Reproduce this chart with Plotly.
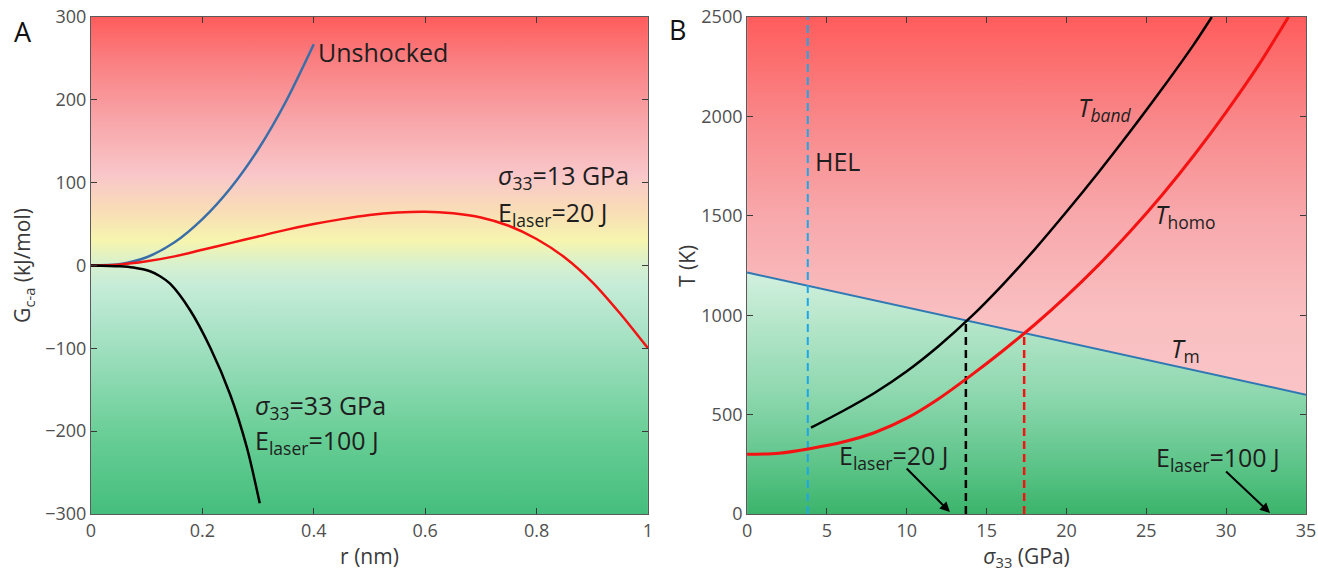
import plotly.graph_objects as go

# ---------------- Panel A data ----------------
r_unshocked = [0, 0.05, 0.10, 0.15, 0.20, 0.25, 0.30, 0.35, 0.40]
g_unshocked = [0, 1.5, 10, 28, 56, 93, 140, 198, 267]

r_13gpa = [0, 0.05, 0.10, 0.15, 0.20, 0.25, 0.30, 0.35, 0.40, 0.45, 0.50, 0.55, 0.60,
           0.65, 0.70, 0.75, 0.80, 0.85, 0.90, 0.95, 1.00]
g_13gpa = [0, 1, 5, 11, 19, 27, 35, 43, 50, 56, 61, 64, 65, 63, 58, 48, 32, 10, -20, -58, -100]

r_33gpa = [0, 0.052, 0.076, 0.106, 0.124, 0.142, 0.178, 0.214, 0.25, 0.28, 0.303]
g_33gpa = [0, -1, -2.5, -7, -13, -22, -54, -99, -156, -220, -287]

# ---------------- Panel B data ----------------
sigma_band = [4, 6, 8, 10, 12, 14, 16, 18, 20, 22, 24, 26, 28, 29.1]
t_band = [434, 518, 610, 718, 845, 990, 1153, 1330, 1520, 1718, 1925, 2140, 2365, 2500]

sigma_homo = [0, 2, 4, 6, 8, 10, 12, 14, 16, 18, 20, 22, 24, 26, 28, 30, 32, 33.9]
t_homo = [300, 306, 330, 362, 410, 482, 580, 696, 820, 952, 1096, 1252, 1422, 1606, 1806, 2022, 2254, 2500]

sigma_melt = [0, 35]
t_melt = [1215, 600]

sigma_hel = 3.8
sigma_band_cross, t_band_cross = 13.7, 975
sigma_homo_cross, t_homo_cross = 17.35, 910

xA_range = [0, 1]
yA_range = [-300, 300]
xB_range = [0, 35]
yB_range = [0, 2500]

FONT = "Open Sans"
TXT = "#1e1e1e"
TICK = "#505050"
W, H = 1318, 572
ML, MR, MT, MB = 91, 12, 17, 58
PW, PH = W - ML - MR, H - MT - MB

fig = go.Figure()

# ---- Panel A background gradient ----
gradA = [
    [0.00, "#45BE7D"], [0.15, "#66CD94"], [0.35, "#A4E1C3"], [0.46, "#C6ECD8"],
    [0.50, "#D6F0CF"], [0.55, "#F6F5AE"], [0.61, "#F9DDB6"], [0.68, "#F9C7C9"],
    [0.80, "#F8A3A7"], [0.92, "#FA7C7E"], [1.00, "#FF5C5C"],
]
fig.add_trace(go.Scatter(
    x=[xA_range[0], xA_range[1], xA_range[1], xA_range[0], xA_range[0]],
    y=[yA_range[0], yA_range[0], yA_range[1], yA_range[1], yA_range[0]],
    fill="toself", mode="lines", line=dict(width=0),
    fillgradient=dict(type="vertical", colorscale=gradA, start=yA_range[0], stop=yA_range[1]),
    hoverinfo="skip", showlegend=False, xaxis="x", yaxis="y"))

# ---- Panel B background: red everywhere, green below melt line ----
gradBred = [[0.0, "#FBCBCD"], [0.4, "#F9BFC1"], [0.6, "#F8A8AB"], [0.8, "#F98688"], [1.0, "#FF5C5C"]]
fig.add_trace(go.Scatter(
    x=[xB_range[0], xB_range[1], xB_range[1], xB_range[0], xB_range[0]],
    y=[yB_range[0], yB_range[0], yB_range[1], yB_range[1], yB_range[0]],
    fill="toself", mode="lines", line=dict(width=0),
    fillgradient=dict(type="vertical", colorscale=gradBred, start=yB_range[0], stop=yB_range[1]),
    hoverinfo="skip", showlegend=False, xaxis="x2", yaxis="y2"))
gradBgreen = [[0.0, "#3BB46B"], [0.2, "#5CC488"], [0.5, "#8ED8AF"], [1.0, "#D2F0DE"]]
fig.add_trace(go.Scatter(
    x=sigma_melt, y=t_melt, fill="tozeroy", mode="lines", line=dict(width=0),
    fillgradient=dict(type="vertical", colorscale=gradBgreen, start=0, stop=max(t_melt)),
    hoverinfo="skip", showlegend=False, xaxis="x2", yaxis="y2"))

# ---- Panel A curves ----
fig.add_trace(go.Scatter(x=r_unshocked, y=g_unshocked, mode="lines", line=dict(color="#3A6EA8", width=2.5, shape="spline", smoothing=0.8),
                         showlegend=False, xaxis="x", yaxis="y"))
fig.add_trace(go.Scatter(x=r_13gpa, y=g_13gpa, mode="lines", line=dict(color="#F41212", width=2.5, shape="spline", smoothing=0.8),
                         showlegend=False, xaxis="x", yaxis="y"))
fig.add_trace(go.Scatter(x=r_33gpa, y=g_33gpa, mode="lines", line=dict(color="#000000", width=2.5, shape="spline", smoothing=0.8),
                         showlegend=False, xaxis="x", yaxis="y"))

# ---- Panel B lines ----
fig.add_trace(go.Scatter(x=sigma_melt, y=t_melt, mode="lines", line=dict(color="#2F78B3", width=2),
                         showlegend=False, xaxis="x2", yaxis="y2"))
fig.add_trace(go.Scatter(x=[sigma_hel, sigma_hel], y=yB_range, mode="lines",
                         line=dict(color="#1EA6E6", width=2, dash="8px,5px"),
                         showlegend=False, xaxis="x2", yaxis="y2"))
fig.add_trace(go.Scatter(x=[sigma_band_cross, sigma_band_cross], y=[0, t_band_cross], mode="lines",
                         line=dict(color="#000000", width=2.5, dash="8px,5px"),
                         showlegend=False, xaxis="x2", yaxis="y2"))
fig.add_trace(go.Scatter(x=[sigma_homo_cross, sigma_homo_cross], y=[0, t_homo_cross], mode="lines",
                         line=dict(color="#F41212", width=2.5, dash="8px,5px"),
                         showlegend=False, xaxis="x2", yaxis="y2"))
fig.add_trace(go.Scatter(x=sigma_band, y=t_band, mode="lines", line=dict(color="#000000", width=2.5, shape="spline", smoothing=0.8),
                         showlegend=False, xaxis="x2", yaxis="y2"))
fig.add_trace(go.Scatter(x=sigma_homo, y=t_homo, mode="lines", line=dict(color="#F41212", width=3, shape="spline", smoothing=0.8),
                         showlegend=False, xaxis="x2", yaxis="y2"))

axis_common = dict(showline=True, linecolor="#5a5a5a", linewidth=1, mirror="ticks", ticks="inside",
                   ticklen=6, tickcolor="#3a3a3a", showgrid=False, zeroline=False, automargin=False,
                   ticklabeloverflow="allow",
                   tickfont=dict(family=FONT, size=18, color=TICK))
title_font = dict(family=FONT, size=21, color="#3a3a3a")

fig.update_layout(
    width=W, height=H,
    margin=dict(l=ML, r=MR, t=MT, b=MB, autoexpand=False),
    paper_bgcolor="white", plot_bgcolor="white",
    font=dict(family=FONT, color=TXT),
    xaxis=dict(domain=[0, 0.4584], range=xA_range, dtick=0.2, anchor="y",
               title=dict(text="r (nm)", font=title_font, standoff=8), **axis_common),
    yaxis=dict(domain=[0, 1], range=yA_range, dtick=100, anchor="x",
               title=dict(text="G<sub>c-a</sub> (kJ/mol)", font=title_font, standoff=8), **axis_common),
    xaxis2=dict(domain=[0.540, 1], range=xB_range, dtick=5, anchor="y2",
                title=dict(text="<i>σ</i><sub>33</sub> (GPa)", font=title_font, standoff=6), **axis_common),
    yaxis2=dict(domain=[0, 1], range=yB_range, dtick=500, anchor="x2", **axis_common),
)

# right-panel y-axis title placed precisely
fig.add_annotation(x=(687 - ML) / PW, y=(H - MB - 266) / PH, xref="paper", yref="paper",
                   text="T (K)", textangle=-90, showarrow=False, xanchor="center", yanchor="middle",
                   font=title_font)

ann_font = dict(family=FONT, size=25, color=TXT)
annA = [
    (0.404, 258, "Unshocked"),
    (0.727, 108, "<i>σ</i><sub>33</sub>=13 GPa"),
    (0.727, 63, "E<sub>laser</sub>=20 J"),
    (0.291, -170, "<i>σ</i><sub>33</sub>=33 GPa"),
    (0.291, -212, "E<sub>laser</sub>=100 J"),
]
for x, y, t in annA:
    fig.add_annotation(x=x, y=y, xref="x", yref="y", text=t, showarrow=False, xanchor="left",
                       yanchor="middle", font=ann_font)

annB = [
    (4.1, 1775, "HEL"),
    (20.6, 2040, "<i>T<sub>band</sub></i>"),
    (25.4, 1500, "<i>T</i><sub>homo</sub>"),
    (26.4, 830, "<i>T</i><sub>m</sub>"),
    (5.6, 290, "E<sub>laser</sub>=20 J"),
    (25.5, 280, "E<sub>laser</sub>=100 J"),
]
for x, y, t in annB:
    fig.add_annotation(x=x, y=y, xref="x2", yref="y2", text=t, showarrow=False, xanchor="left",
                       yanchor="middle", font=ann_font)

# arrows
for (tx, ty, hx, hy) in [(9.9, 236, 12.7, 10), (29.9, 221, 32.75, 5)]:
    fig.add_annotation(x=hx, y=hy, ax=tx, ay=ty, xref="x2", yref="y2", axref="x2", ayref="y2",
                       text="", showarrow=True, arrowhead=2, arrowsize=1, arrowwidth=2, arrowcolor="#000000")

# panel letters (pixel positions converted to paper coords)
for px, py, letter in [(23, 32, "A"), (677, 29, "B")]:
    fig.add_annotation(x=(px - ML) / PW, y=(H - MB - py) / PH, xref="paper", yref="paper",
                       text=letter, showarrow=False, xanchor="center", yanchor="middle",
                       font=dict(family=FONT, size=27, color="#111111"))

# remove the default page margin so the figure fills the window exactly
fig.write_html("out.html", config={"displayModeBar": False},
               post_script="document.body.style.margin='0px';document.body.style.overflow='hidden';")
